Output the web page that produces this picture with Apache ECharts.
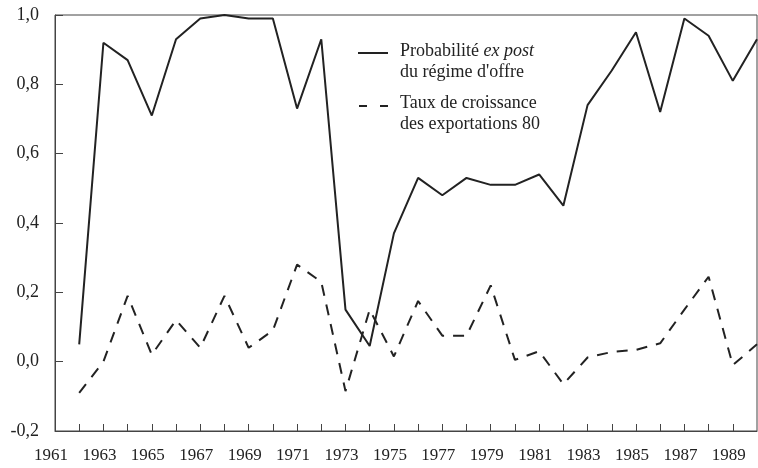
<!DOCTYPE html>
<html><head><meta charset="utf-8">
<script src="https://cdn.jsdelivr.net/npm/echarts@6/dist/echarts.min.js"></script>
<style>html,body{margin:0;padding:0;background:#fff}#c{width:758px;height:468px}</style>
</head><body><div id="c"></div>
<script>
const years = [1962,1963,1964,1965,1966,1967,1968,1969,1970,1971,1972,1973,1974,1975,1976,1977,1978,1979,1980,1981,1982,1983,1984,1985,1986,1987,1988,1989,1990];
const probOffre = [0.05,0.92,0.87,0.71,0.93,0.99,1.00,0.99,0.99,0.73,0.93,0.15,0.045,0.37,0.53,0.48,0.53,0.51,0.51,0.54,0.45,0.74,0.84,0.95,0.72,0.99,0.94,0.81,0.93];
const croissanceExport = [-0.09,0.00,0.19,0.02,0.12,0.04,0.19,0.04,0.09,0.28,0.23,-0.085,0.15,0.015,0.175,0.075,0.075,0.22,0.005,0.03,-0.065,0.012,0.028,0.034,0.053,0.15,0.245,-0.01,0.05];
const yTicks = [-0.2,0,0.2,0.4,0.6,0.8,1.0];
const legendLines = [["Probabilité ", "ex post", "du régime d'offre"],["Taux de croissance", "", "des exportations 80"]];

const chart = echarts.init(document.getElementById('c'), null, {renderer:'canvas'});
const font = 'Liberation Serif';
const ink = '#222';
chart.setOption({
  animation:false,
  backgroundColor:'#fff',
  grid:{left:55,right:1,top:15,bottom:37,show:true,borderColor:'#444',borderWidth:1,backgroundColor:'transparent'},
  xAxis:{type:'value',min:1961,max:1990,interval:1,
    axisLine:{onZero:false,lineStyle:{color:'#444',width:1}},
    axisTick:{inside:true,length:7,lineStyle:{color:'#444'}},
    splitLine:{show:false},
    axisLabel:{margin:16,fontFamily:font,fontSize:17,color:ink,showMaxLabel:false,padding:[0,8,0,0],
      formatter:v=> (v%2===1 && v<1990) ? String(v) : ''}},
  yAxis:{type:'value',min:yTicks[0],max:yTicks[yTicks.length-1],interval:0.2,
    axisLine:{show:true,onZero:false,lineStyle:{color:'#444',width:1}},
    axisTick:{show:true,inside:true,length:8,lineStyle:{color:'#444'}},
    splitLine:{show:false},
    axisLabel:{margin:16,fontFamily:font,fontSize:18,color:ink,
      formatter:v=>(Math.round(v*10)/10).toFixed(1).replace('.',',')}},
  series:[
    {name:'prob',type:'line',symbol:'none',data:years.map((y,i)=>[y,probOffre[i]]),lineStyle:{color:ink,width:2}},
    {name:'exp',type:'line',symbol:'none',data:years.map((y,i)=>[y,croissanceExport[i]]),lineStyle:{color:ink,width:2,type:[11,9]}}
  ],
  graphic:[
    {type:'line',shape:{x1:358,y1:53,x2:388,y2:53},style:{stroke:ink,lineWidth:2}},
    {type:'line',shape:{x1:359,y1:106,x2:389,y2:106},style:{stroke:ink,lineWidth:2,lineDash:[8,13]}},
    {type:'text',left:400,top:42,style:{text:'{a|'+legendLines[0][0]+'}{i|'+legendLines[0][1]+'}\n{a|'+legendLines[0][2]+'}',
      rich:{a:{fontFamily:font,fontSize:18,lineHeight:21,fill:ink},i:{fontFamily:font,fontSize:18,fontStyle:'italic',lineHeight:21,fill:ink}}}},
    {type:'text',left:400,top:94,style:{text:'{a|'+legendLines[1][0]+'}\n{a|'+legendLines[1][2]+'}',
      rich:{a:{fontFamily:font,fontSize:18,lineHeight:21,fill:ink}}}}
  ]
});
</script></body></html>
